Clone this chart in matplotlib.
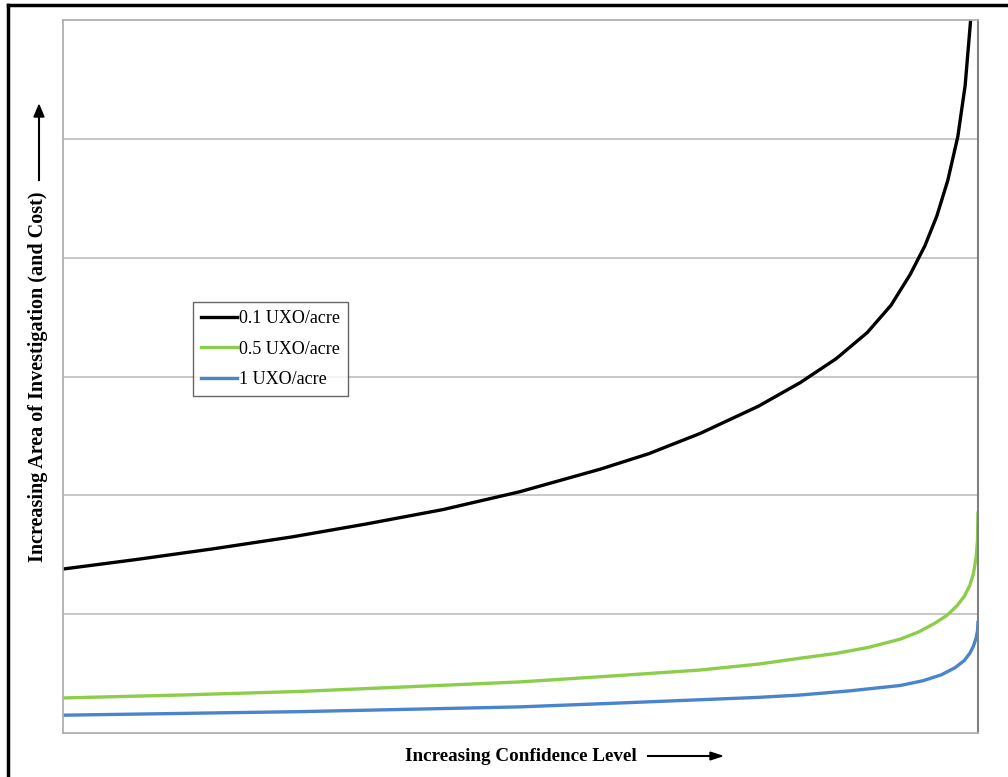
import matplotlib
matplotlib.use("Agg")
from matplotlib import pyplot as plt
from matplotlib.lines import Line2D

plt.rcParams['font.family'] = ['Liberation Serif', 'DejaVu Serif']

# confidence level (fraction of axis) and relative area of investigation
x_low = [0.0, 0.08, 0.164, 0.25, 0.332, 0.415, 0.499, 0.587, 0.64, 0.696, 0.76, 0.806,
         0.845, 0.879, 0.905, 0.926, 0.942, 0.955, 0.967, 0.978, 0.986, 0.992]
area_low = [1.38, 1.46, 1.55, 1.65, 1.76, 1.88, 2.03, 2.22, 2.35, 2.52, 2.75, 2.95,
            3.15, 3.37, 3.60, 3.86, 4.10, 4.35, 4.65, 5.02, 5.45, 6.0]

x_mid = [0.0, 0.13, 0.259, 0.38, 0.499, 0.6, 0.696, 0.76, 0.806, 0.845, 0.88, 0.915,
         0.935, 0.952, 0.966, 0.977, 0.985, 0.991, 0.995, 0.998, 0.9995, 1.0]
area_mid = [0.295, 0.32, 0.35, 0.39, 0.43, 0.48, 0.53, 0.58, 0.63, 0.67, 0.72, 0.79,
            0.85, 0.92, 0.99, 1.07, 1.15, 1.24, 1.34, 1.48, 1.62, 1.85]

x_high = [0.0, 0.13, 0.259, 0.38, 0.499, 0.6, 0.696, 0.76, 0.806, 0.86, 0.915, 0.94,
          0.96, 0.975, 0.985, 0.991, 0.995, 0.998, 0.9995, 1.0]
area_high = [0.15, 0.165, 0.18, 0.20, 0.22, 0.25, 0.28, 0.30, 0.32, 0.355, 0.40, 0.44,
             0.49, 0.55, 0.61, 0.67, 0.73, 0.80, 0.86, 0.93]

labels = ['0.1 UXO/acre', '0.5 UXO/acre', '1 UXO/acre']
colors = ['#000000', '#8cce4a', '#4a84cc']

fig = plt.figure(figsize=(10.08, 7.77), dpi=100)
ax = fig.add_axes([0.0625, 0.0566, 0.9077, 0.9176])

ax.plot(x_low, area_low, color=colors[0], lw=2.4, label=labels[0], solid_joinstyle='round')
ax.plot(x_mid, area_mid, color=colors[1], lw=2.4, label=labels[1], solid_joinstyle='round')
ax.plot(x_high, area_high, color=colors[2], lw=2.4, label=labels[2], solid_joinstyle='round')

ax.set_xlim(0, 1)
ax.set_ylim(0, 6)
ax.set_yticks([1, 2, 3, 4, 5])
ax.set_xticks([])
ax.tick_params(left=False, labelleft=False)
ax.grid(axis='y', color='#c4c4c4', lw=1.3)
ax.set_axisbelow(True)
for s in ['left', 'bottom', 'top']:
    ax.spines[s].set_color('#b0b0b0')
    ax.spines[s].set_linewidth(1.3)
ax.spines['right'].set_color('#808080')
ax.spines['right'].set_linewidth(1.5)

leg = ax.legend(loc='upper left', bbox_to_anchor=(0.142, 0.6045), fontsize=13,
                frameon=True, fancybox=False, handlelength=2.0, handletextpad=0.1,
                borderpad=0.45, labelspacing=0.75, borderaxespad=0)
leg.get_frame().set_edgecolor('#404040')
leg.get_frame().set_linewidth(1.0)

# axis titles with arrows
fig.text(521 / 1008, 0.027, 'Increasing Confidence Level', ha='center', va='center',
         fontsize=13.8, fontweight='bold')
fig.add_artist(Line2D([648 / 1008, 712 / 1008], [0.027, 0.027], color='black', lw=1.5))
fig.text(38 / 1008, 1 - 377 / 777, 'Increasing Area of Investigation (and Cost)', ha='center',
         va='center', rotation=90, fontsize=14.5, fontweight='bold')
fig.add_artist(Line2D([39 / 1008, 39 / 1008], [1 - 180 / 777, 1 - 114 / 777], color='black', lw=1.5))
fig.patches.append(plt.Polygon([[722 / 1008, 0.027], [710 / 1008, 0.032], [710 / 1008, 0.022]],
                               closed=True, color='black', transform=fig.transFigure))
fig.patches.append(plt.Polygon([[39 / 1008, 1 - 105 / 777], [34 / 1008, 1 - 117 / 777],
                                [44 / 1008, 1 - 117 / 777]],
                               closed=True, color='black', transform=fig.transFigure))

# outer border (cropped on right and bottom)
fig.add_artist(Line2D([8 / 1008, 8 / 1008], [0, 1 - 5 / 777], color='black', lw=2.5))
fig.add_artist(Line2D([8 / 1008, 1], [1 - 5 / 777, 1 - 5 / 777], color='black', lw=2.5))

fig.savefig('out.png', dpi=100)
